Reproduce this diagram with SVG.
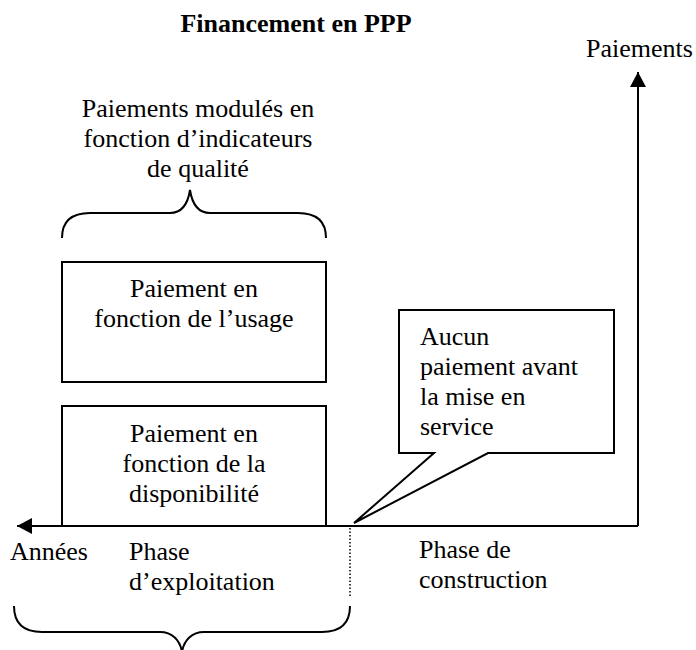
<svg xmlns="http://www.w3.org/2000/svg" width="696" height="650" viewBox="0 0 696 650" font-family="'Liberation Serif', 'DejaVu Serif', serif">
  <style>
    text { font-family: "Liberation Serif", "DejaVu Serif", serif; font-size: 26px; fill: #000; }
    .c { text-anchor: middle; }
    .b { font-weight: bold; }
    .box { fill: #fff; stroke: #000; stroke-width: 2; }
    .ln { fill: none; stroke: #000; stroke-width: 2; }
    .dot { fill: none; stroke: #000; stroke-width: 1.5; stroke-dasharray: 1.5 2; }
  </style>
  <defs>
    <marker id="arrow" viewBox="0 0 15 16" refX="15" refY="8" markerWidth="15" markerHeight="16" markerUnits="userSpaceOnUse" orient="auto">
      <path d="M0,0 L15,8 L0,16 Z" fill="#000"/>
    </marker>
  </defs>
  <rect width="696" height="650" fill="#fff"/>

  <text class="b c" x="296" y="32">Financement en PPP</text>

  <!-- axes -->
  <g id="connectors">
    <path class="ln" d="M638,526 V72" marker-end="url(#arrow)"/>
    <path class="ln" d="M638,526 H17" marker-end="url(#arrow)"/>
    <path class="dot" d="M350,528 V598"/>
  </g>

  <g id="axis-y-label">
    <text x="586" y="57">Paiements</text>
  </g>
  <g id="axis-x-label">
    <text x="10" y="560">Années</text>
  </g>

  <!-- upper brace and quality label -->
  <g id="quality">
    <text class="c" x="198" y="117">Paiements modulés en</text>
    <text class="c" x="198" y="147">fonction d’indicateurs</text>
    <text class="c" x="198" y="177">de qualité</text>
    <path class="ln" d="M62,238 C62,222 70,213 90,213 H170 C182,213 188,203 190,190 C192,203 198,213 210,213 H298 C318,213 326,222 326,238"/>
  </g>

  <g id="usage">
    <rect class="box" x="62" y="262" width="264" height="120"/>
    <text class="c" x="194" y="297">Paiement en</text>
    <text class="c" x="194" y="327">fonction de l’usage</text>
  </g>

  <g id="disponibilite">
    <path class="ln" d="M62,526 V406 H326 V526"/>
    <text class="c" x="194" y="442">Paiement en</text>
    <text class="c" x="194" y="472">fonction de la</text>
    <text class="c" x="194" y="502">disponibilité</text>
  </g>

  <g id="callout">
    <path class="box" d="M399,310 H614 V453 H488 L354,523 L434,453 H399 Z"/>
    <text x="420" y="345">Aucun</text>
    <text x="420" y="375">paiement avant</text>
    <text x="420" y="405">la mise en</text>
    <text x="420" y="435">service</text>
  </g>

  <g id="exploitation">
    <text x="129" y="560">Phase</text>
    <text x="129" y="590">d’exploitation</text>
    <path class="ln" d="M14,606 C14,622 22,632 42,632 H160 C172,632 180,640 182,652 C184,640 192,632 204,632 H322 C342,632 350,622 350,606"/>
  </g>

  <g id="construction">
    <text x="419" y="558">Phase de</text>
    <text x="419" y="588">construction</text>
  </g>
</svg>
